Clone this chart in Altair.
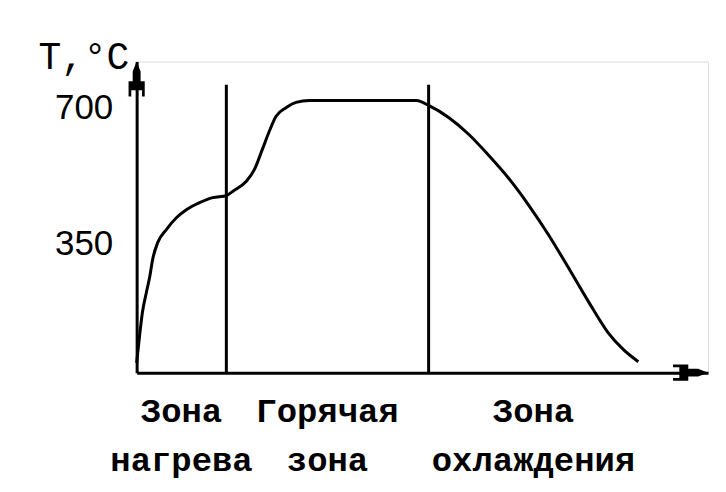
import altair as alt
import pandas as pd

# ---- data ----
time = [0, 0.5, 1.0, 1.7, 2.3, 2.8, 3.7, 5.2, 7.0, 8.7, 11.0, 13.3, 15.7, 16.8,
        19.2, 20.6, 22.0, 23.2, 24.4, 26.2, 27.9, 30.2, 49.0, 51.1, 54.6, 58.1,
        61.6, 65.1, 68.6, 72.1, 75.6, 79.1, 82.5, 85.2, 87.8]
temp = [25, 93, 154, 206, 247, 291, 335, 368, 399, 419, 437, 450, 455, 466,
        492, 522, 574, 620, 659, 682, 695, 700, 700, 687, 656, 613,
        559, 500, 431, 354, 269, 182, 103, 59, 28]

zone_bounds = [0, 15.7, 51.1, 87.8]
zone_line1 = ["Зона", "Горячая", "Зона"]
zone_line2 = ["нагрева", "зона", "охлаждения"]
divider_top = 740
y_ticks = [350, 700]

X_MAX, Y_MAX = 100, 800
W, H = 573, 312

curve = pd.DataFrame({"t": time, "T": temp})
dividers = pd.DataFrame({"t": zone_bounds[1:3], "T0": [0, 0], "T1": [divider_top] * 2})
zones = pd.DataFrame({
    "c": [(zone_bounds[i] + zone_bounds[i + 1]) / 2 for i in range(3)],
    "l1": zone_line1,
    "l2": zone_line2,
})
arrow_len_px = 18
arrows = pd.DataFrame({
    "t": [0, X_MAX - arrow_len_px * X_MAX / W],
    "T": [Y_MAX - arrow_len_px * Y_MAX / H, 0],
    "a": [0, 90],
})

xs = alt.Scale(domain=[0, X_MAX], nice=False, zero=False)
ys = alt.Scale(domain=[0, Y_MAX], nice=False, zero=False)

line = alt.Chart(curve).mark_line(color="black", strokeWidth=3, interpolate="monotone").encode(
    x=alt.X("t:Q", scale=xs,
            axis=alt.Axis(labels=False, ticks=False, grid=False, title=None,
                          domainColor="black", domainWidth=3)),
    y=alt.Y("T:Q", scale=ys,
            axis=alt.Axis(values=y_ticks, ticks=False, grid=False, domainColor="black",
                          domainWidth=3, labelFont="Liberation Sans", labelFontSize=35,
                          labelColor="black", labelPadding=24, labelOffset=7,
                          title="T,°C", titleAngle=0, titleAlign="left",
                          titleBaseline="alphabetic", titleX=-99, titleY=7,
                          titleFont="Liberation Mono", titleFontSize=38,
                          titleFontWeight="normal", titleColor="black")),
)

rules = alt.Chart(dividers).mark_rule(color="black", strokeWidth=3).encode(
    x="t:Q", y="T0:Q", y2="T1:Q"
)

arrow_path = ("M0,-1 L0.22,-0.45 L0.22,0.1 L0.45,0.1 L0.45,0.95 L0.3,0.95 L0.3,0.6 "
              "L-0.3,0.6 L-0.3,0.95 L-0.45,0.95 L-0.45,0.1 L-0.22,0.1 L-0.22,-0.45 Z")
arrow_marks = alt.Chart(arrows).mark_point(
    shape=arrow_path, filled=True, color="black", size=(2 * arrow_len_px) ** 2, opacity=1
).encode(x="t:Q", y="T:Q", angle=alt.Angle("a:Q", scale=None))

txt_common = dict(font="Liberation Mono", fontSize=34, fontWeight="bold", color="black",
                  align="center", baseline="alphabetic")
text1 = alt.Chart(zones).mark_text(**txt_common).encode(
    x="c:Q", y=alt.value(361), text="l1:N")
text2 = alt.Chart(zones).mark_text(**txt_common).encode(
    x="c:Q", y=alt.value(411), text="l2:N")

chart = alt.layer(line, rules, arrow_marks, text1, text2).properties(
    width=W, height=H,
    autosize=alt.AutoSizeParams(type="none"),
    padding={"left": 129, "top": 53, "right": 10, "bottom": 110},
).configure_view(stroke=None).configure(background="white")

chart.save("out.html", embed_options={"renderer": "svg", "actions": False})
